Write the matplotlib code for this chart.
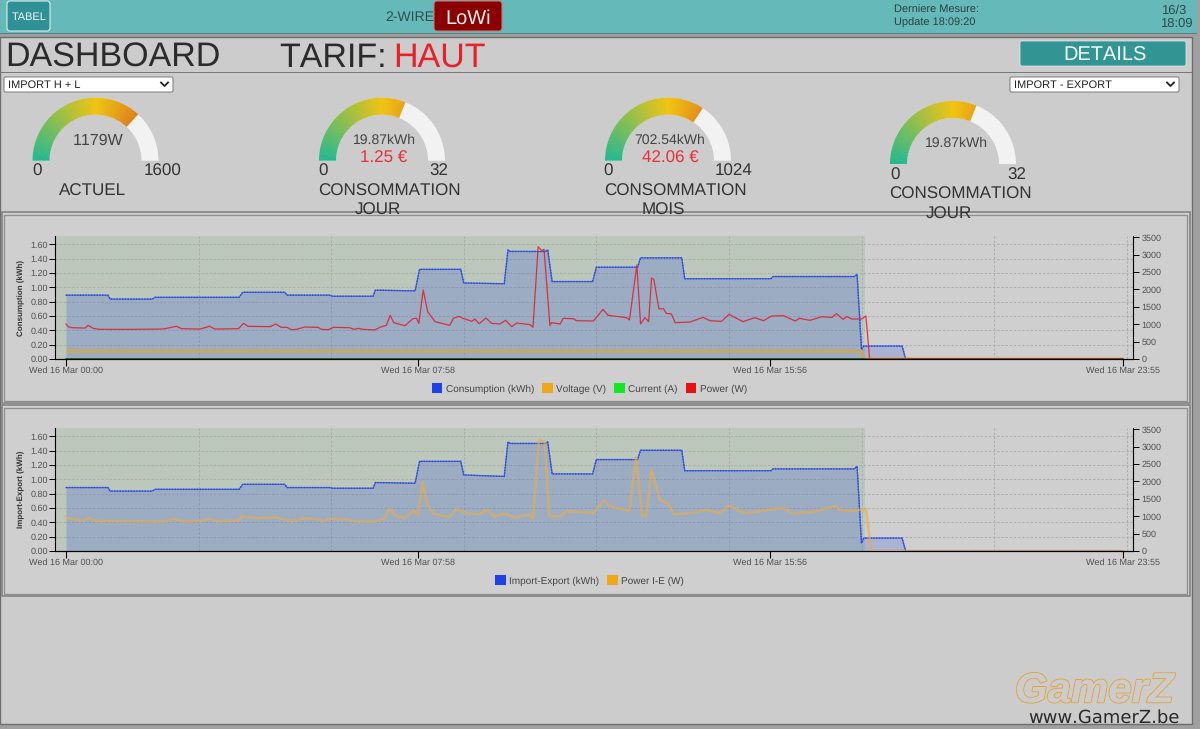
import numpy as np
import matplotlib
matplotlib.use("Agg")
import matplotlib.pyplot as plt
import matplotlib.patheffects as pe
from matplotlib.colors import LinearSegmentedColormap
from matplotlib.patches import Rectangle, FancyBboxPatch, Wedge, Patch

plt.rcParams['font.family'] = ['Liberation Sans', 'DejaVu Sans']
plt.rcParams['text.hinting'] = 'no_hinting'
plt.rcParams['text.hinting_factor'] = 1
plt.rcParams['text.kerning_factor'] = 6

# ---------- data ----------
energy_min = [0, 57, 60, 117, 121, 235, 240, 297, 300, 358, 362, 417, 420, 474, 480, 536, 540, 595, 600, 603, 651, 654, 660,
              715, 720, 776, 780, 836, 840, 957, 960, 1070, 1074, 1080, 1083, 1135, 1140, 1435]
consumption = [0.89, 0.89, 0.835, 0.835, 0.86, 0.86, 0.93, 0.93, 0.89, 0.89, 0.875, 0.875, 0.96, 0.95, 1.25, 1.25, 1.06, 1.05,
               1.52, 1.50, 1.50, 1.52, 1.08, 1.08, 1.28, 1.28, 1.41, 1.41, 1.12, 1.12, 1.15, 1.15, 1.18, 0.13, 0.18, 0.18, 0.0, 0.0]
import_export = [0.885, 0.885, 0.835, 0.835, 0.86, 0.86, 0.93, 0.93, 0.885, 0.885, 0.875, 0.875, 0.955, 0.945, 1.25, 1.25, 1.06, 1.04,
                 1.52, 1.50, 1.50, 1.52, 1.075, 1.075, 1.275, 1.275, 1.405, 1.405, 1.12, 1.12, 1.145, 1.145, 1.18, 0.11, 0.18, 0.18, 0.0, 0.0]

power_min = [0, 3, 8, 26, 30, 37, 46, 91, 132, 150, 157, 182, 195, 202, 234, 241, 247, 277, 285, 292, 300, 306, 313, 324, 342,
             347, 356, 363, 385, 391, 397, 403, 419, 426, 435, 440, 445, 460, 471, 476, 479, 485, 491, 501, 521, 526, 533, 539,
             551, 555, 561, 570, 578, 589, 597, 605, 612, 630, 634, 641, 646, 649, 657, 659, 671, 675, 689, 693, 716, 729, 736,
             761, 765, 775, 780, 786, 791, 795, 798, 805, 811, 815, 822, 827, 847, 865, 874, 890, 900, 919, 935, 947, 958, 974,
             990, 996, 1010, 1026, 1040, 1046, 1055, 1060, 1067, 1080, 1086, 1091, 1435]
power_w = [1007, 930, 900, 890, 968, 880, 853, 853, 862, 940, 872, 862, 940, 862, 872, 1025, 940, 930, 1007, 910, 910, 843, 853,
           920, 910, 853, 843, 910, 900, 853, 880, 853, 834, 910, 968, 1256, 1045, 958, 1160, 1170, 1025, 1985, 1361, 1074, 968,
           1170, 1227, 1170, 1083, 1150, 1016, 1179, 1025, 1007, 1112, 930, 1035, 988, 910, 3231, 3116, 3154, 958, 1045, 1007,
           1170, 1160, 1102, 1093, 1428, 1256, 1189, 1122, 2703, 1007, 1189, 1074, 2330, 2291, 1438, 1448, 1313, 1294, 1045, 1064,
           1198, 1102, 1083, 1285, 1074, 1189, 1102, 1237, 1246, 1093, 1170, 1112, 1218, 1198, 1304, 1141, 1218, 1150, 1150, 1237, 0, 0]

voltage_min = [0, 1080, 1083, 1435]
voltage_v = [230, 230, 0, 0]
current_min = [0, 1083, 1088, 1435]
current_a = [5, 5, 0, 0]

pie_min = [0, 6, 24, 31, 40, 134, 146, 159, 185, 195, 204, 235, 238, 258, 284, 292, 307, 320, 341, 348, 359, 383, 391, 416, 432,
           439, 447, 460, 472, 478, 484, 491, 499, 520, 530, 543, 561, 570, 582, 598, 608, 629, 634, 642, 650, 656, 668, 680,
           716, 730, 741, 765, 774, 782, 788, 795, 806, 818, 825, 856, 869, 886, 901, 922, 940, 962, 977, 986, 1013, 1044, 1053,
           1074, 1086, 1093, 1435]
pie_w = [990, 923, 875, 952, 865, 846, 923, 846, 865, 923, 856, 875, 1000, 942, 980, 923, 856, 933, 923, 846, 933, 904, 856, 836,
         923, 1212, 1019, 952, 1163, 1019, 1980, 1307, 1067, 971, 1212, 1096, 1048, 1183, 1000, 1086, 952, 1048, 923, 3200, 3135,
         1019, 971, 1144, 1096, 1452, 1260, 1163, 2702, 1019, 1048, 2336, 1480, 1356, 1048, 1115, 1192, 1087, 1298, 1087, 1144,
         1212, 1221, 1087, 1115, 1288, 1163, 1163, 1212, 0, 0]

xtick_min = [0, 478, 956, 1435]
xtick_labels = ['Wed 16 Mar 00:00', 'Wed 16 Mar 07:58', 'Wed 16 Mar 15:56', 'Wed 16 Mar 23:55']
grid_min = [0, 180, 360, 540, 720, 900, 1080, 1260, 1440]
left_ticks = [0.0, 0.2, 0.4, 0.6, 0.8, 1.0, 1.2, 1.4, 1.6]
right_ticks = [0, 500, 1000, 1500, 2000, 2500, 3000, 3500]
tariff_end_min = 1085

gauge_values = [1179, 19.87, 702.54, 19.87]
gauge_maxima = [1600, 32, 1024, 32]

# ---------- canvas ----------
W, H = 1200, 729
PANEL = '#cccccc'
fig = plt.figure(figsize=(W / 100, H / 100), dpi=100, facecolor='#a0a0a0')
bg = fig.add_axes([0, 0, 1, 1], zorder=0)
bg.set_xlim(0, W); bg.set_ylim(H, 0); bg.axis('off')


def rect(x0, y0, x1, y1, fc, ec='none', lw=0, z=1, a=None):
    bg.add_patch(Rectangle((x0, y0), x1 - x0, y1 - y0, fc=fc, ec=ec, lw=lw, zorder=z, alpha=a))


def btn(x0, y0, x1, y1, fc, ec, rad=3, lw=0.8, z=4):
    bg.add_patch(FancyBboxPatch((x0 + rad, y0 + rad), x1 - x0 - 2 * rad, y1 - y0 - 2 * rad,
                                boxstyle=f'round,pad={rad},rounding_size={rad}', fc=fc, ec=ec, lw=lw, zorder=z))


def txt(x, y, s, size_px, color='#333333', ha='center', z=5, **kw):
    return bg.text(x, y, s, fontsize=size_px * 0.72, color=color, ha=ha, va='center_baseline', zorder=z, **kw)


# main panel + top bar
rect(0, 37, 1192, 723.5, PANEL, ec='#6e6e6e', lw=1.0)
rect(0, 0, 1197, 33, '#66b9b9')
rect(0, 32.5, 1197, 34, '#5f7f7f')
rect(0, 71.5, 1192, 72.5, '#777777')

btn(7, 1, 50, 31, '#2f9096', '#d8eeee')
txt(29, 16, 'TABEL', 11.5, '#eef8f8')
txt(410, 16, '2-WIRE', 13.5, '#2f5050')
btn(434, 1, 502, 31, '#8b0000', '#c07a7a')
txt(468, 16.5, 'LoWi', 20, '#f5f0f0')
txt(894, 9, 'Derniere Mesure:', 11, '#2c4040', ha='left')
txt(894, 21.5, 'Update 18:09:20', 11, '#2c4040', ha='left')
txt(1186, 9, '16/3', 12.5, '#2c4a4a', ha='right')
txt(1193, 22.5, '18:09', 12.5, '#2c4a4a', ha='right')

txt(5, 54.5, 'DASHBOARD', 33.6, '#2b2b2b', ha='left')
txt(279, 54.5, 'TARIF:', 33.6, '#2b2b2b', ha='left')
txt(393, 54.5, 'HAUT', 33.6, '#e8202a', ha='left')
btn(1020, 41, 1186, 66, '#339593', '#e0eeee', rad=2, lw=0.5)
txt(1105, 53.5, 'DETAILS', 20, '#f2fafa')

for (x0, x1, s) in [(4, 173, 'IMPORT H + L'), (1010, 1179, 'IMPORT - EXPORT')]:
    btn(x0, 77, x1, 92, '#ffffff', '#777777', rad=1.5, lw=0.7)
    txt(x0 + 4, 84.3, s, 11.3, '#222222', ha='left')
    bg.plot([x1 - 12, x1 - 8.5, x1 - 5], [82.5, 86, 82.5], color='#222222', lw=1.3, zorder=6)

# gauges
cmap = LinearSegmentedColormap.from_list('gauge', [(0, '#26b88f'), (0.5, '#f1c40f'), (0.75, '#dc7c1e'), (1, '#c85a10')])
gauge_cx = [95.5, 382, 668, 953]
gauge_base = [160.7, 160.7, 160.7, 164]
R_OUT, R_IN = 63, 46
for cx, cy, v, m in zip(gauge_cx, gauge_base, gauge_values, gauge_maxima):
    bg.add_patch(Wedge((cx, cy), R_OUT, 180, 360, width=R_OUT - R_IN, fc='#f2f2f2', ec='none', zorder=2))
    frac = v / m
    edges = np.arange(0, frac, 0.01)
    for f0 in edges:
        f1 = min(f0 + 0.013, frac)
        bg.add_patch(Wedge((cx, cy), R_OUT, 180 + 180 * f0, 180 + 180 * f1, width=R_OUT - R_IN,
                           fc=cmap(f0), ec='none', zorder=3))

txt(98, 139, '1179W', 16, '#444444')
txt(36.7, 170, '0', 17); txt(163, 170, '1600', 17)
txt(93, 189.5, 'ACTUEL', 17)

txt(384, 138.5, '19.87kWh', 13.7, '#444444')
txt(384, 157, '1.25 €', 17, '#e8303a')
txt(323, 170, '0', 17); txt(438.5, 170, '32', 17)
txt(389, 189.5, 'CONSOMMATION', 17.1); txt(377.5, 209, 'JOUR', 17.1, z=8)

txt(670, 138.5, '702.54kWh', 13.8, '#444444')
txt(670, 157, '42.06 €', 17, '#e8303a')
txt(608.5, 170, '0', 17); txt(734, 170, '1024', 17)
txt(675, 189.5, 'CONSOMMATION', 17.1); txt(663, 209, 'MOIS', 17.1, z=8)

txt(956, 142, '19.87kWh', 13.7, '#444444')
txt(895, 173.5, '0', 17); txt(1017, 173.5, '32', 17)
txt(960, 193, 'CONSOMMATION', 17.1); txt(949, 212.5, 'JOUR', 17.1, z=8)

# chart frames
for y0, y1 in [(212, 403), (405, 596)]:
    rect(1.5, y0, 1189.5, y1, '#cfcfcf', ec='#7d7d7d', lw=1.1, z=7)
    rect(4, y0 + 2.5, 1187, y1 - 2.5, '#cfcfcf', ec='#8e8e8e', lw=0.9, z=7)

# watermark
wm = txt(1015, 687, 'GamerZ', 42, '#cccccc', ha='left', z=6, fontweight='bold', fontstyle='italic')
wm.set_path_effects([pe.withStroke(linewidth=1.4, foreground='#e8a030'), pe.Normal()])
bg.text(1180, 716, 'www.GamerZ.be', fontsize=13, family='DejaVu Sans', color='#2a2a2a',
        ha='right', va='center_baseline', zorder=6)

# ---------- charts ----------
PX_PER_MIN = (1123 - 66) / 1435
XMIN = (55 - 66) / PX_PER_MIN
XMAX = (1133 - 66) / PX_PER_MIN
TICKC = '#505050'


def make_chart(top, bottom, ylabel, energy, series, legend_items, legend_y, legend_cx):
    rect_ax = [55 / W, 1 - bottom / H, (1133 - 55) / W, (bottom - top) / H]
    ax = fig.add_axes(rect_ax, zorder=10, facecolor='none')
    ax.set_xlim(XMIN, XMAX)
    ax.set_ylim(0, 123 / 71.7)
    ax.axvspan(XMIN, tariff_end_min, color='#5aa85a', alpha=0.17, lw=0, zorder=0)
    ax.set_xticks(grid_min, minor=True)
    ax.set_xticks(xtick_min)
    ax.set_xticklabels(xtick_labels, fontsize=6.4, color=TICKC)
    ax.set_yticks(left_ticks)
    ax.set_yticklabels([f'{t:.2f}' for t in left_ticks], fontsize=6.5, color=TICKC)
    ax.tick_params(axis='x', which='major', length=5, width=0.8, pad=0.5)
    ax.tick_params(axis='x', which='minor', length=0)
    ax.tick_params(axis='y', length=4, width=0.7, pad=1)
    ax.grid(True, axis='y', color='#a8a8a8', ls=(0, (3, 2)), lw=0.6, zorder=1)
    ax.grid(True, axis='x', which='minor', color='#a8a8a8', ls=(0, (3, 2)), lw=0.6, zorder=1)
    ax.set_axisbelow(True)
    ax.set_ylabel(ylabel, fontsize=6, color='#333333', labelpad=4, fontweight='bold')
    for s in ('top', 'right'):
        ax.spines[s].set_visible(False)
    ax.fill_between(energy_min, energy, 0, color='#2040e0', alpha=0.2, lw=0, zorder=2)
    ax.plot(energy_min, energy, color='#4a68e0', lw=0.9, zorder=3)
    ax.plot(energy_min, energy, color='#2a48d8', lw=1.0, ls=(0, (1, 1)), zorder=3)

    ax2 = ax.twinx()
    ax2.set_zorder(11)
    ax2.patch.set_visible(False)
    ax2.set_ylim(0, 3500 * 123 / 121.7)
    ax2.set_yticks(right_ticks)
    ax2.set_yticklabels([str(t) for t in right_ticks], fontsize=6.5, color=TICKC)
    ax2.tick_params(axis='y', length=4, width=0.7, pad=2)
    for s in ('top', 'left'):
        ax2.spines[s].set_visible(False)
    ax2.spines['bottom'].set_zorder(10)
    for x, y, kw in series:
        ax2.plot(x, y, **kw)

    handles = [Patch(fc=c, ec='none', label=l) for l, c in legend_items]
    fig.legend(handles=handles, loc='center', bbox_to_anchor=(legend_cx / W, 1 - legend_y / H),
               ncols=len(handles), frameon=False, fontsize=7.2, labelcolor='#444444',
               handlelength=1.05, handleheight=1.05, handletextpad=0.35, columnspacing=0.8, borderpad=0)
    return ax, ax2


make_chart(236, 359, 'Consumption (kWh)', consumption,
           [(voltage_min, voltage_v, dict(color='#e8a820', alpha=0.5, lw=3, zorder=4, solid_capstyle='butt')),
            (current_min, current_a, dict(color='#106010', lw=1.0, zorder=4)),
            (power_min, power_w, dict(color='#e01c2c', alpha=0.85, lw=0.9, zorder=5))],
           [('Consumption (kWh)', '#2040e8'), ('Voltage (V)', '#f0a818'),
            ('Current (A)', '#10e820'), ('Power (W)', '#e81010')], 388.5, 589.5)

make_chart(428, 551, 'Import-Export (kWh)', import_export,
           [(pie_min, pie_w, dict(color='#e8ac50', alpha=0.62, lw=1.9, zorder=5))],
           [('Import-Export (kWh)', '#2040e8'), ('Power I-E (W)', '#f0a818')], 580.5, 589.5)

fig.savefig('out.png', dpi=100, facecolor=fig.get_facecolor())
